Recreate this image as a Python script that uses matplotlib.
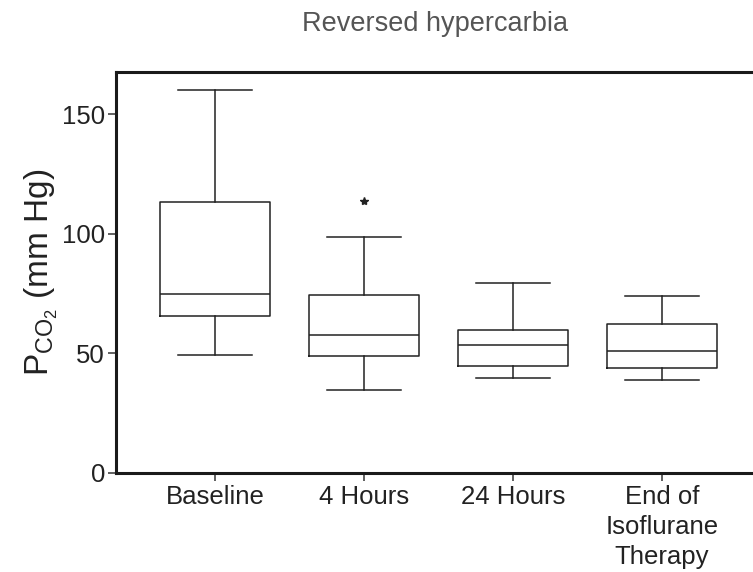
import matplotlib
matplotlib.use("Agg")
import matplotlib.pyplot as plt

# data (mm Hg)
groups = ["Baseline", "4 Hours", "24 Hours", "End of\nIsoflurane\nTherapy"]
whislo = [49.2, 34.8, 39.8, 39.0]
q1 = [65.8, 49.0, 44.8, 44.0]
med = [74.9, 57.8, 53.6, 51.1]
q3 = [113.3, 74.2, 59.9, 62.4]
whishi = [160.0, 98.5, 79.6, 73.8]
fliers = [[], [113.6], [], []]

plt.rcParams['font.family'] = ['Liberation Sans', 'DejaVu Sans']
plt.rcParams['mathtext.fontset'] = 'custom'
plt.rcParams['mathtext.rm'] = 'Liberation Sans'
plt.rcParams['mathtext.it'] = 'Liberation Sans'

stats = []
for i in range(len(groups)):
    stats.append(dict(whislo=whislo[i], q1=q1[i], med=med[i], q3=q3[i],
                      whishi=whishi[i], fliers=fliers[i], label=groups[i]))

fig = plt.figure(figsize=(7.53, 5.72), dpi=100)
# axes run off the right edge like the original crop
ax = fig.add_axes([116 / 753, 1 - 473 / 572, (761 - 116) / 753, (473 - 72) / 572])

line = dict(color='#222222', linewidth=1.1)
ax.bxp(stats, positions=range(1, 5), widths=0.74, showfliers=True,
       boxprops=line, whiskerprops=line, capprops=line, medianprops=line,
       capwidths=0.5,
       flierprops=dict(marker='*', markersize=6, markerfacecolor='#222222',
                       markeredgecolor='#222222', linestyle='none'))

ax.set_xlim(0.335, 4.665)
ax.set_ylim(0, 167.6)
ax.set_yticks([0, 50, 100, 150])

for side in ['left', 'bottom', 'top']:
    ax.spines[side].set_linewidth(2.2)
    ax.spines[side].set_color('#1a1a1a')
ax.spines['right'].set_visible(False)

ax.tick_params(axis='both', direction='out', length=6, width=1.2,
               colors='#444444', labelsize=18.5, labelcolor='#222222')
ax.tick_params(axis='x', pad=3)
ax.tick_params(axis='y', pad=2)
for lab in ax.get_xticklabels():
    lab.set_linespacing(1.3)

ax.set_ylabel(r'P$_{\mathrm{CO}_2}$ (mm Hg)', fontsize=24, color='#222222',
              labelpad=1)
fig.text(435 / 753, 1 - 24 / 572, 'Reversed hypercarbia', ha='center',
         va='center', fontsize=19.5, color='#555555')

fig.savefig('out.png', dpi=100)
